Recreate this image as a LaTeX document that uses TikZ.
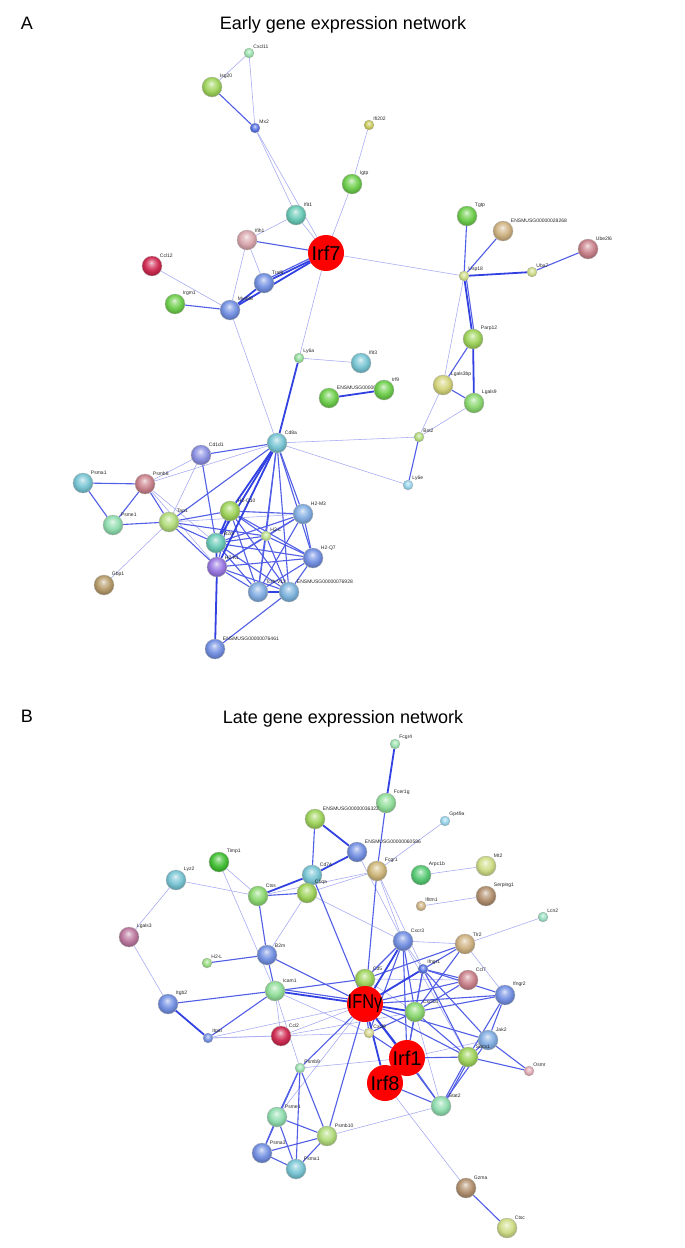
\documentclass[tikz,border=0pt]{standalone}
\usepackage{fontspec}
\setmainfont{Liberation Sans}
\usepackage{graphicx}
\pgfdeclarelayer{bg}
\pgfdeclarelayer{edges}
\pgfsetlayers{bg,edges,main}
\makeatletter
\pgfdeclareradialshading[tikz@ball]{softball}{\pgfqpoint{-2bp}{9bp}}{%
color(0bp)=(tikz@ball!20!white);
color(6bp)=(tikz@ball!55!white);
color(16bp)=(tikz@ball!92!white);
color(26bp)=(tikz@ball!82!black);
color(34bp)=(tikz@ball!65!black);
color(50bp)=(tikz@ball!65!black)}
\makeatother
\definecolor{pmint}{RGB}{150,225,170}
\definecolor{pygreen}{RGB}{155,210,85}
\definecolor{pgreen}{RGB}{105,205,70}
\definecolor{pblue}{RGB}{110,140,225}
\definecolor{pdblue}{RGB}{75,105,225}
\definecolor{plblue}{RGB}{125,170,225}
\definecolor{pcyan}{RGB}{115,195,210}
\definecolor{pteal}{RGB}{100,200,180}
\definecolor{polive}{RGB}{200,200,85}
\definecolor{ppaleyg}{RGB}{205,220,130}
\definecolor{ptan}{RGB}{205,175,125}
\definecolor{pbrown}{RGB}{175,140,105}
\definecolor{prose}{RGB}{200,125,135}
\definecolor{pmauve}{RGB}{185,115,155}
\definecolor{pcrimson}{RGB}{205,35,75}
\definecolor{ppurple}{RGB}{150,115,225}
\definecolor{ppink}{RGB}{225,165,175}
\definecolor{plcyan}{RGB}{145,210,235}
\definecolor{pviolet}{RGB}{135,140,225}
\definecolor{pyellow}{RGB}{215,215,140}
\definecolor{ptimp}{RGB}{60,190,45}
\definecolor{parpc}{RGB}{80,200,110}
\definecolor{hubred}{RGB}{255,0,0}
\definecolor{ec}{RGB}{50,65,225}
\tikzset{
 nb/.style={circle, inner sep=0pt, minimum size=20pt, draw=black!30, line width=0.3pt, ball color=#1, shading=softball},
 ns/.style={circle, inner sep=0pt, minimum size=10pt, draw=black!30, line width=0.25pt, ball color=#1, shading=softball},
 nr/.style={circle, inner sep=0pt, minimum size=36pt, fill=hubred, font=\fontsize{20}{20}\selectfont},
 lab/.style={anchor=south west, inner sep=0.6pt, font=\fontsize{5}{5}\selectfont, text=black!85},
 ttl/.style={anchor=base, inner sep=0pt, font=\fontsize{18}{18}\selectfont},
 e0/.style={draw=ec!45, line width=0.55pt},
 e1/.style={draw=ec!85, line width=1.1pt},
 e2/.style={draw=ec, line width=1.8pt},
}
\begin{document}
\begin{tikzpicture}[x=1pt,y=-1pt]
\begin{pgfonlayer}{bg}
\fill[white] (0,0) rectangle (685,1248);
\end{pgfonlayer}
\useasboundingbox (0,0) rectangle (685,1248);
% titles
\node[ttl] (lA) at (27,29) {A};
\node[ttl] (tA) at (343,29) {Early gene expression network};
\node[ttl] (lB) at (27,722) {B};
\node[ttl] (tB) at (343,723) {Late gene expression network};
% ---------------- Panel A nodes
\node[ns=pmint, label={[lab]45:Cxcl11}] (Cxcl11) at (249,53) {};
\node[nb=pygreen, label={[lab]45:Isg20}] (Isg20) at (212,87) {};
\node[ns=pdblue, label={[lab]45:Mx2}] (Mx2) at (255,128) {};
\node[ns=polive, label={[lab]45:Ifi202}] (Ifi202) at (369,125) {};
\node[nb=pgreen, label={[lab]45:Igtp}] (Igtp) at (352,184) {};
\node[nb=pteal, label={[lab]45:Ifit1}] (Ifit1) at (296,215) {};
\node[nb=prose!70!white, label={[lab]45:Ifih1}] (Ifih1) at (247,240) {};
\node[nb=pcrimson, label={[lab]45:Ccl12}] (Ccl12) at (152,266) {};
\node[nb=pblue, label={[lab]45:Traf6}] (Traf6) at (264,283) {};
\node[nb=pgreen, label={[lab]45:Irgm1}] (Irgm1) at (175,304) {};
\node[nb=pblue, label={[lab]45:Myd88}] (Myd88) at (230,310) {};
\node[nb=pgreen, label={[lab]45:Tgtp}] (Tgtp) at (467,216) {};
\node[nb=ptan, label={[lab]45:ENSMUSG00000028268}] (ENSa) at (503,231) {};
\node[nb=prose, label={[lab]45:Ube2l6}] (Ube2l6) at (588,249) {};
\node[ns=ppaleyg, label={[lab]45:Uba7}] (Uba7) at (532,272) {};
\node[ns=ppaleyg, label={[lab]45:Usp18}] (Usp18) at (464,276) {};
\node[nb=pygreen, label={[lab]45:Parp12}] (Parp12) at (473,339) {};
\node[ns=pmint!80!pgreen, label={[lab]45:Ly6a}] (Ly6a) at (299,358) {};
\node[nb=pcyan, label={[lab]45:Ifit3}] (Ifit3) at (361,363) {};
\node[nb=pgreen, label={[lab]45:ENSMUSG00000026104}] (ENSb) at (329,398) {};
\node[nb=pgreen, label={[lab]45:Irf9}] (Irf9) at (384,390) {};
\node[nb=polive!80!white, label={[lab]45:Lgals3bp}] (Lgals3bp) at (443,385) {};
\node[nb=pgreen!80!white, label={[lab]45:Lgals9}] (Lgals9) at (474,403) {};
\node[nb=pcyan, label={[lab]45:Cd8a}] (Cd8a) at (277,443) {};
\node[ns=pygreen!80!white, label={[lab]45:Bst2}] (Bst2) at (419,437) {};
\node[ns=plcyan, label={[lab]45:Ly6e}] (Ly6e) at (408,485) {};
\node[nb=pviolet, label={[lab]45:Cd1d1}] (Cd1d1) at (201,455) {};
\node[nb=pcyan, label={[lab]45:Psma1}] (Psma1) at (83,483) {};
\node[nb=prose, label={[lab]45:Psmb8}] (Psmb8) at (145,484) {};
\node[nb=pmint!80!pteal, label={[lab]45:Psme1}] (Psme1) at (113,525) {};
\node[nb=pygreen!80!white, label={[lab]45:Tap1}] (Tap1) at (169,522) {};
\node[nb=pbrown!80!polive, label={[lab]45:Gbp1}] (Gbp1) at (104,585) {};
\node[nb=pygreen, label={[lab]45:H2-Q10}] (H2Q10) at (230,511) {};
\node[ns=pygreen!70!white, label={[lab]45:H2-L}] (H2L) at (266,536) {};
\node[nb=plblue, label={[lab]45:H2-M3}] (H2M3) at (303,514) {};
\node[nb=pblue, label={[lab]45:H2-Q7}] (H2Q7) at (313,558) {};
\node[nb=pteal, label={[lab]45:B2m}] (B2m) at (216,543) {};
\node[nb=ppurple, label={[lab]45:H2-K1}] (H2K1) at (217,567) {};
\node[nb=plblue, label={[lab]45:Tcrb-V13}] (Tcrb) at (258,592) {};
\node[nb=plblue!70!pcyan, label={[lab]45:ENSMUSG00000076928}] (ENSc) at (289,592) {};
\node[nb=pblue, label={[lab]45:ENSMUSG00000076461}] (ENSd) at (215,649) {};
\node[nr] (Irf7) at (326,253) {\makebox[0pt]{Irf7}};
% ---------------- Panel B nodes
\node[ns=pmint, label={[lab]45:Fcgr4}] (Fcgr4) at (395,744) {};
\node[nb=pmint!80!pgreen, label={[lab]45:Fcer1g}] (Fcer1g) at (386,803) {};
\node[nb=pygreen, label={[lab]45:ENSMUSG00000036322}] (ENSe) at (315,819) {};
\node[ns=plcyan, label={[lab]45:Gp49a}] (Gp49a) at (445,821) {};
\node[nb=pblue, label={[lab]45:ENSMUSG00000060586}] (ENSf) at (357,852) {};
\node[nb=pcyan, label={[lab]45:Cd74}] (Cd74) at (312,875) {};
\node[nb=ptan!80!polive, label={[lab]45:Fcgr1}] (Fcgr1) at (377,871) {};
\node[nb=parpc, label={[lab]45:Arpc1b}] (Arpc1b) at (421,875) {};
\node[nb=ppaleyg, label={[lab]45:Mt2}] (Mt2) at (486,866) {};
\node[nb=pygreen, label={[lab]45:C1qa}] (C1qa) at (307,893) {};
\node[ns=ptan, label={[lab]45:Ifitm1}] (Ifitm1) at (421,906) {};
\node[nb=pbrown, label={[lab]45:Serping1}] (Serping1) at (486,896) {};
\node[nb=ptimp, label={[lab]45:Timp1}] (Timp1) at (219,862) {};
\node[nb=pcyan, label={[lab]45:Lyz2}] (Lyz2) at (176,880) {};
\node[nb=pgreen!80!white, label={[lab]45:Ctss}] (Ctss) at (258,896) {};
\node[nb=pmauve, label={[lab]45:Lgals3}] (Lgals3) at (129,937) {};
\node[ns=pgreen!70!white, label={[lab]45:H2-L}] (bH2L) at (207,963) {};
\node[nb=pblue, label={[lab]45:B2m}] (bB2m) at (267,955) {};
\node[nb=pmint!80!pgreen, label={[lab]45:Icam1}] (Icam1) at (275,991) {};
\node[nb=pblue, label={[lab]45:Itgb2}] (Itgb2) at (168,1004) {};
\node[ns=pblue, label={[lab]45:Itgal}] (Itgal) at (208,1038) {};
\node[nb=pcrimson, label={[lab]45:Ccl2}] (Ccl2) at (281,1036) {};
\node[ns=pmint!70!plcyan, label={[lab]45:Lcn2}] (Lcn2) at (543,917) {};
\node[nb=pblue, label={[lab]45:Cxcr3}] (Cxcr3) at (403,941) {};
\node[nb=ptan, label={[lab]45:Tlr2}] (Tlr2) at (465,944) {};
\node[ns=pdblue, label={[lab]45:Ifngr1}] (Ifngr1) at (423,969) {};
\node[nb=pygreen, label={[lab]45:Cd5}] (Cd5) at (365,979) {};
\node[nb=prose, label={[lab]45:Ccl7}] (Ccl7) at (468,980) {};
\node[nb=pblue, label={[lab]45:Ifngr2}] (Ifngr2) at (505,995) {};
\node[nb=pgreen!80!white, label={[lab]45:Cxcl10}] (Cxcl10) at (415,1012) {};
\node[ns=pyellow, label={[lab]45:Cxcl9}] (Cxcl9) at (369,1033) {};
\node[nb=plblue, label={[lab]45:Jak2}] (Jak2) at (488,1040) {};
\node[nb=pygreen, label={[lab]45:Socs1}] (Socs1) at (468,1057) {};
\node[ns=ppink, label={[lab]45:Osmr}] (Osmr) at (529,1071) {};
\node[nb=pmint!80!pteal, label={[lab]45:Stat2}] (Stat2) at (441,1106) {};
\node[ns=pmint, label={[lab]45:Psmb9}] (Psmb9) at (300,1068) {};
\node[nb=pmint!80!pteal, label={[lab]45:Psme1}] (bPsme1) at (277,1117) {};
\node[nb=pygreen!80!white, label={[lab]45:Psmb10}] (Psmb10) at (327,1136) {};
\node[nb=pblue, label={[lab]45:Psma3}] (Psma3) at (262,1153) {};
\node[nb=pcyan, label={[lab]45:Psma1}] (bPsma1) at (296,1169) {};
\node[nb=pbrown, label={[lab]45:Gzma}] (Gzma) at (466,1188) {};
\node[nb=ppaleyg, label={[lab]45:Ctsc}] (Ctsc) at (507,1228) {};
\node[nr] (IFNg) at (365,1004) {\makebox[0pt]{\scalebox{0.82}[1]{IFNγ}}};
\node[nr] (Irf1) at (407,1058) {\makebox[0pt]{Irf1}};
\node[nr] (Irf8) at (385,1083) {\makebox[0pt]{Irf8}};
% ---------------- edges
\begin{pgfonlayer}{edges}
% panel A
\foreach \a/\b in {Cxcl11/Isg20,Cxcl11/Mx2,Mx2/Ifit1,Mx2/Irf7,Ifi202/Igtp,Igtp/Irf7,Ifit1/Irf7,Ifit1/Ifih1,Ifih1/Traf6,Ifih1/Myd88,Ccl12/Myd88,Irf7/Usp18,Irf7/Ly6a,Myd88/Cd8a,Ly6a/Ifit3,Usp18/Lgals3bp,Lgals3bp/Bst2,Lgals9/Bst2,Cd8a/Bst2,Cd8a/Ly6e,Cd8a/Psmb8,Cd1d1/Psmb8,Cd1d1/Tap1,Tap1/Gbp1,Psmb8/B2m,Psmb8/H2K1,Tap1/H2M3}
  \draw[e0] (\a) -- (\b);
\foreach \a/\b in {Isg20/Mx2,Ifih1/Irf7,Irgm1/Myd88,Usp18/Tgtp,Usp18/ENSa,Uba7/Ube2l6,Parp12/Lgals3bp,Lgals3bp/Lgals9,Bst2/Ly6e,Cd8a/Cd1d1,Cd8a/Tap1,Cd8a/H2L,Cd8a/H2M3,Cd8a/H2Q7,Cd8a/Tcrb,Cd8a/ENSc,Psma1/Psmb8,Psma1/Psme1,Psmb8/Psme1,Psmb8/Tap1,Psme1/Tap1,Cd1d1/B2m,Tap1/H2Q10,Tap1/B2m,Tap1/H2K1,Tap1/H2L,H2Q10/H2M3,H2Q10/H2L,H2Q10/H2K1,H2Q10/H2Q7,H2Q10/Tcrb,H2Q10/ENSc,B2m/H2M3,B2m/H2L,B2m/H2Q7,B2m/Tcrb,B2m/ENSc,H2K1/H2M3,H2K1/H2L,H2K1/H2Q7,H2K1/Tcrb,H2K1/ENSc,H2L/H2M3,H2L/H2Q7,H2L/Tcrb,H2L/ENSc,H2M3/H2Q7,H2Q7/ENSc,H2Q7/Tcrb,H2M3/Tcrb,ENSd/ENSc}
  \draw[e1] (\a) -- (\b);
\foreach \a/\b in {Traf6/Irf7,Myd88/Irf7,Traf6/Myd88,ENSb/Irf9,Usp18/Uba7,Usp18/Parp12,Parp12/Lgals9,Cd8a/B2m,Cd8a/H2K1,Cd8a/H2Q10,H2Q10/B2m,B2m/H2K1,H2K1/ENSd,Tcrb/ENSc,Ly6a/Cd8a}
  \draw[e2] (\a) -- (\b);
\draw[e1] ([yshift=2.4]Traf6.center) -- ([yshift=2.4]Irf7.center);
\draw[e1] ([xshift=2]Usp18.center) -- ([xshift=2]Parp12.center);
% panel B
\foreach \a/\b in {Gp49a/Fcgr1,ENSf/Cxcr3,Fcgr1/Cxcr3,Fcgr1/Ifngr1,Fcgr1/C1qa,Fcgr1/Ctss,C1qa/bB2m,C1qa/Cxcr3,Ctss/Lyz2,Ctss/Timp1,Timp1/Icam1,Lyz2/Lgals3,Lgals3/Itgb2,Icam1/Ccl2,Icam1/Cxcl9,Icam1/Psmb9,Itgal/IFNg,Itgal/Cxcl9,Itgal/Ccl2,Ccl2/IFNg,Ccl2/Cxcl10,Psmb9/Irf1,bPsme1/IFNg,Psmb10/Stat2,Irf8/Gzma,Tlr2/Lcn2,Arpc1b/Mt2,Ifitm1/Serping1,Cxcr3/Tlr2,Cxcr3/Ifngr1,Cxcr3/Socs1,Tlr2/Ifngr2,Ccl7/Cd5,Cxcl10/Stat2,Jak2/Irf1,Cd5/Cxcl10}
  \draw[e0] (\a) -- (\b);
\foreach \a/\b in {Fcer1g/Fcgr1,ENSe/Cd74,Cd74/C1qa,Cd74/IFNg,Fcgr1/IFNg,C1qa/Ctss,Ctss/bB2m,bH2L/bB2m,bB2m/Icam1,bB2m/IFNg,Icam1/Itgb2,Icam1/Itgal,Icam1/Cd5,Psmb9/IFNg,Psmb9/bPsme1,Psmb9/bPsma1,Psmb9/Psmb10,Psmb9/Psma3,Psmb10/IFNg,bPsme1/Psmb10,bPsme1/Psma3,bPsme1/bPsma1,Psma3/bPsma1,Psma3/Psmb10,bPsma1/Psmb10,Gzma/Ctsc,Cxcr3/Cd5,Cxcr3/Cxcl10,Cxcr3/Cxcl9,Cxcr3/Irf1,Tlr2/Cd5,Tlr2/IFNg,Tlr2/Cxcl10,Ifngr1/Ifngr2,Ifngr1/Jak2,Ifngr1/Socs1,Ifngr1/Cxcl10,Ifngr1/Ccl7,Ifngr1/Irf1,Ccl7/IFNg,Ccl7/Cxcl10,Ifngr2/IFNg,Ifngr2/Jak2,Ifngr2/Socs1,Ifngr2/Cxcl10,Cxcl10/Irf1,Cxcl10/Socs1,Cxcl10/Cxcl9,Jak2/Socs1,Jak2/Osmr,Jak2/IFNg,Jak2/Stat2,Socs1/Osmr,Socs1/Irf1,Socs1/Stat2,Socs1/IFNg,Irf1/Irf8,Irf1/Stat2,Irf8/Stat2,Cxcl9/IFNg,Cxcl9/Irf1,Stat2/IFNg,Cd5/IFNg}
  \draw[e1] (\a) -- (\b);
\foreach \a/\b in {Fcgr4/Fcer1g,ENSe/ENSf,ENSf/Cd74,Cd74/Ctss,Icam1/IFNg,Itgb2/Itgal,Cxcr3/IFNg,Ifngr1/IFNg,Cxcl10/IFNg,Irf1/IFNg,Irf8/IFNg}
  \draw[e2] (\a) -- (\b);
\draw[e1] ([yshift=2.6]Icam1.center) -- ([yshift=2.6]IFNg.center);
\draw[e1] ([xshift=2.2]Socs1.center) -- ([xshift=2.2]Stat2.center);
\end{pgfonlayer}
\end{tikzpicture}
\end{document}
